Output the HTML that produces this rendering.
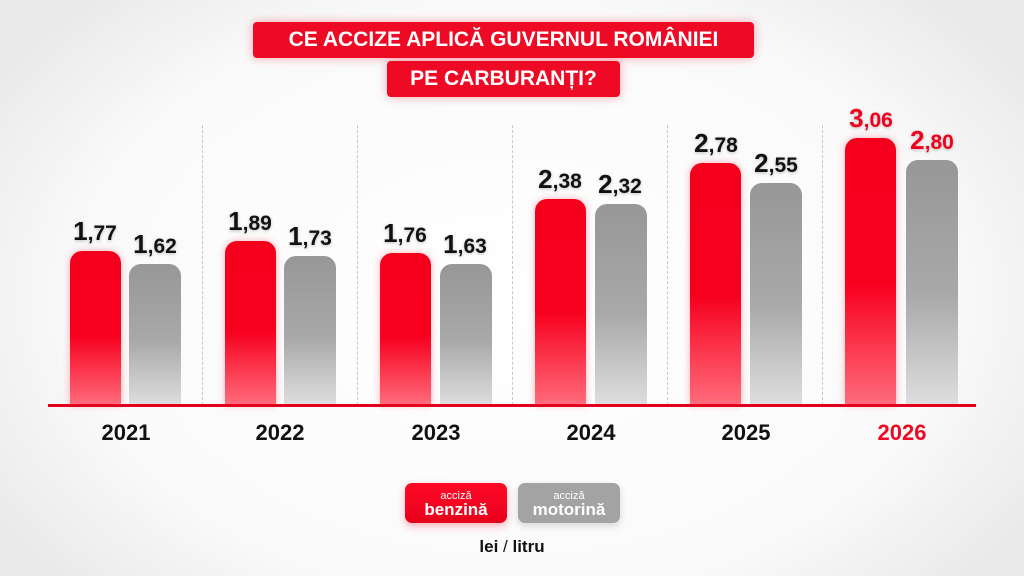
<!DOCTYPE html>
<html><head><meta charset="utf-8"><style>
body{margin:0;width:1024px;height:576px;overflow:hidden;font-family:"Liberation Sans","DejaVu Sans",sans-serif;
background:radial-gradient(ellipse 620px 420px at 512px 300px,#fff 0%,#fafafa 70%,#e9e9e9 100%);position:relative}
.a{position:absolute}
.t{background:#ee0a24;color:#fff;font-weight:bold;font-size:21px;text-align:center;border-radius:4px;box-shadow:0 0 10px rgba(238,10,36,.35);line-height:36px;white-space:nowrap}
.sep{position:absolute;top:125px;height:280px;border-left:1px dashed #c8c8c8}
.r{position:absolute;width:51px;border-radius:12px 12px 0 0;background:linear-gradient(#f4001c 0%,#f7001e 55%,#ff6c7c 100%);box-shadow:0 0 8px rgba(240,0,30,.3)}
.g{position:absolute;width:52px;border-radius:12px 12px 0 0;background:linear-gradient(#979797 0%,#a9a9a9 55%,#dedede 100%)}
.v{position:absolute;width:80px;text-align:center;font-weight:bold;font-size:26px;color:#111;text-shadow:0 1px 3px rgba(0,0,0,.25)}
.v small{font-size:21px}
.y{position:absolute;width:100px;text-align:center;font-weight:bold;font-size:22px;color:#111;top:420px}
.l{position:absolute;top:483px;height:40px;width:102px;border-radius:7px;color:#fff;text-align:center;font-weight:bold;line-height:14px}
</style></head><body>
<div class="a t" style="left:253px;top:22px;width:501px;height:36px">CE ACCIZE APLICĂ GUVERNUL ROMÂNIEI</div>
<div class="a t" style="left:387px;top:61px;width:233px;height:36px">PE CARBURANȚI?</div>
<div class="sep" style="left:202px"></div><div class="sep" style="left:357px"></div><div class="sep" style="left:512px"></div><div class="sep" style="left:667px"></div><div class="sep" style="left:822px"></div>

<div class="r" style="left:70px;top:251px;height:154px"></div><div class="g" style="left:129px;top:264px;height:141px"></div>
<div class="r" style="left:225px;top:241px;height:164px"></div><div class="g" style="left:284px;top:256px;height:149px"></div>
<div class="r" style="left:380px;top:253px;height:152px"></div><div class="g" style="left:440px;top:264px;height:141px"></div>
<div class="r" style="left:535px;top:199px;height:206px"></div><div class="g" style="left:595px;top:204px;height:201px"></div>
<div class="r" style="left:690px;top:163px;height:242px"></div><div class="g" style="left:750px;top:183px;height:222px"></div>
<div class="r" style="left:845px;top:138px;height:267px"></div><div class="g" style="left:906px;top:160px;height:245px"></div>

<div class="v" style="left:55px;top:216px">1<small>,77</small></div><div class="v" style="left:115px;top:229px">1<small>,62</small></div>
<div class="v" style="left:210px;top:206px">1<small>,89</small></div><div class="v" style="left:270px;top:221px">1<small>,73</small></div>
<div class="v" style="left:365px;top:218px">1<small>,76</small></div><div class="v" style="left:425px;top:229px">1<small>,63</small></div>
<div class="v" style="left:520px;top:164px">2<small>,38</small></div><div class="v" style="left:580px;top:169px">2<small>,32</small></div>
<div class="v" style="left:676px;top:128px">2<small>,78</small></div><div class="v" style="left:736px;top:148px">2<small>,55</small></div>
<div class="v" style="left:831px;top:103px;color:#f0001c">3<small>,06</small></div><div class="v" style="left:892px;top:125px;color:#f0001c">2<small>,80</small></div>

<div class="a" style="left:48px;top:404px;width:928px;height:3px;background:#e4001c"></div>
<div class="y" style="left:76px">2021</div><div class="y" style="left:230px">2022</div><div class="y" style="left:386px">2023</div>
<div class="y" style="left:541px">2024</div><div class="y" style="left:696px">2025</div><div class="y" style="left:852px;color:#ee0a24">2026</div>

<div class="l" style="left:405px;background:linear-gradient(#ff0a28,#e8001c);box-shadow:0 3px 8px rgba(240,0,30,.3)"><div style="font-size:11px;font-weight:normal;margin-top:6px">acciză</div><div style="font-size:17px">benzină</div></div>
<div class="l" style="left:518px;background:#a3a3a3;box-shadow:0 3px 8px rgba(0,0,0,.15)"><div style="font-size:11px;font-weight:normal;margin-top:6px">acciză</div><div style="font-size:17px">motorină</div></div>
<div class="a" style="left:412px;top:537px;width:200px;text-align:center;font-weight:bold;font-size:17px;color:#111">lei <span style="font-weight:normal">/</span> litru</div>
</body></html>
